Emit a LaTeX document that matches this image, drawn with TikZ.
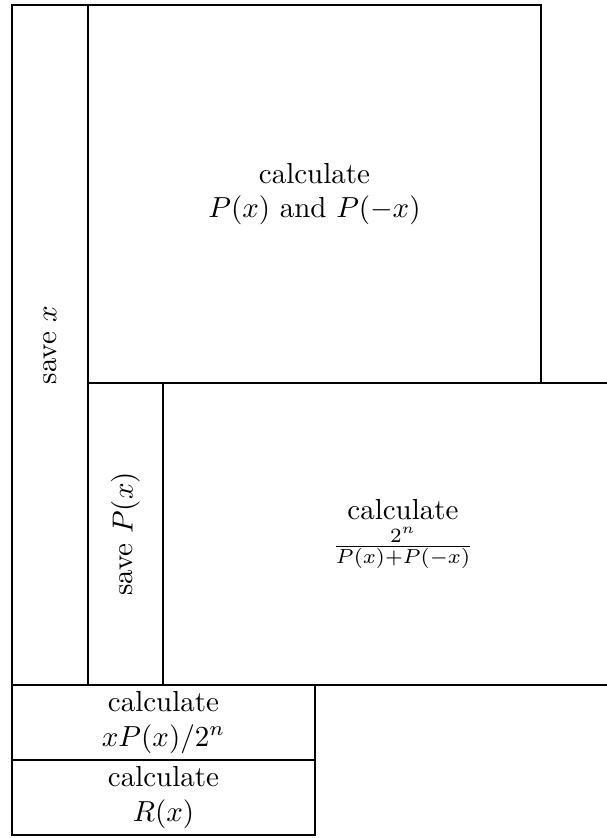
\documentclass[tikz,border=0pt]{standalone}
\usepackage{amsmath}
\usepackage{tikz}

\begin{document}
\begin{tikzpicture}[x=0.3448pt,y=-0.3448pt]
\useasboundingbox (0,0) rectangle (607,838);
\clip (0,0) rectangle (607,838);
% outer column and top block
\draw (12,5) rectangle (88,685);
\node[rotate=90] (savex) at (50,345) {save $x$};
\draw (88,5) rectangle (541,383);
\node[align=center] (calcP) at (314.5,194) {calculate\\$P(x)$ and $P(-x)$};
% middle row
\draw (88,383) rectangle (163,685);
\node[rotate=90] (saveP) at (125.5,534) {save $P(x)$};
\draw (163,383) rectangle (643,685);
\node[align=center] (calcfrac) at (403,534) {calculate\\$\frac{2^n}{P(x)+P(-x)}$};
% bottom blocks
\draw (12,685) rectangle (315,760);
\node[align=center] (calcx) at (163.5,722.5) {calculate\\$xP(x)/2^n$};
\draw (12,760) rectangle (315,835);
\node[align=center] (calcR) at (163.5,797.5) {calculate\\$R(x)$};
\end{tikzpicture}
\end{document}
